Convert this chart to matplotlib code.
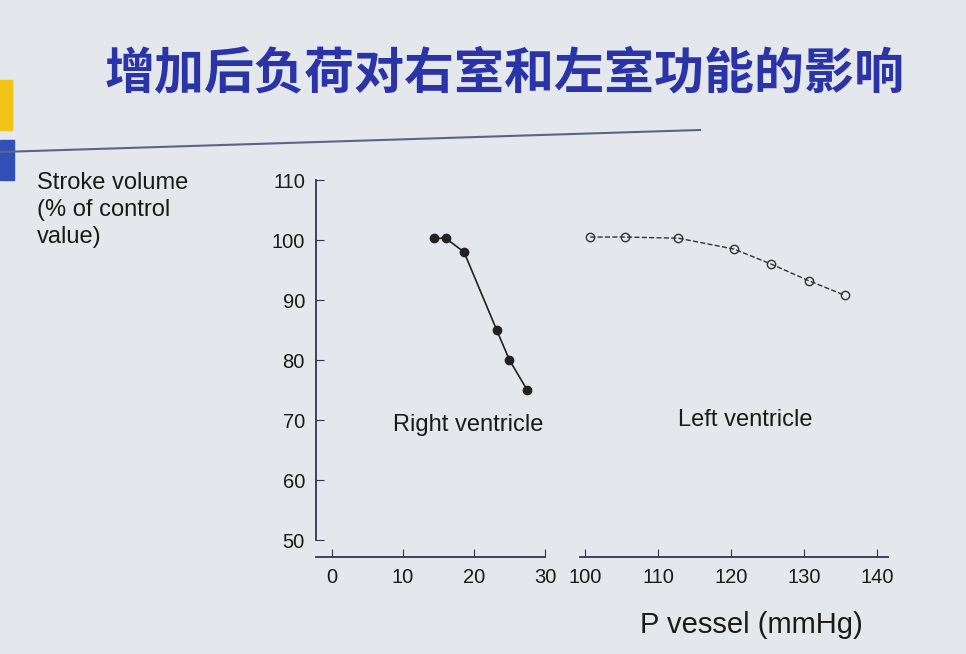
import matplotlib.pyplot as plt
from matplotlib.patches import Rectangle

# data
rv_p = [14.4, 16.0, 18.6, 23.2, 25.0, 27.5]
rv_sv = [100.3, 100.3, 98.0, 85.0, 80.0, 75.0]
lv_p = [100.7, 105.5, 112.8, 120.4, 125.5, 130.7, 135.6]
lv_sv = [100.5, 100.5, 100.3, 98.5, 96.0, 93.2, 90.8]
y_ticks = [50, 60, 70, 80, 90, 100, 110]
rv_ticks = [0, 10, 20, 30]
lv_ticks = [100, 110, 120, 130, 140]

plt.rcParams['font.family'] = ['Liberation Sans', 'DejaVu Sans']

W, H = 966, 654
fig = plt.figure(figsize=(W / 100, H / 100), dpi=100)
fig.patch.set_facecolor('#e4e8ec')

def box(x0, y0, x1, y1):
    return [x0 / W, 1 - y1 / H, (x1 - x0) / W, (y1 - y0) / H]

txt = '#1a1a1a'
ax1 = fig.add_axes(box(316, 180, 545, 557))
ax2 = fig.add_axes(box(580, 180, 890, 557))
for ax in (ax1, ax2):
    ax.set_facecolor('none')
    ax.set_ylim(47.2, 110)
    for s in ('top', 'right'):
        ax.spines[s].set_visible(False)
    for s in ('left', 'bottom'):
        ax.spines[s].set_color('#333355')
        ax.spines[s].set_linewidth(1.3)
    ax.tick_params(direction='in', length=6, colors='#333355', labelcolor=txt,
                   labelsize=14.5, pad=8)

ax1.set_xlim(-2.25, 30)
ax1.spines['left'].set_bounds(50, 110)
ax1.spines['bottom'].set_bounds(-2.25, 30)
ax1.set_yticks(y_ticks)
ax1.set_xticks(rv_ticks)
ax1.plot(rv_p, rv_sv, '-o', color='#222222', ms=6, lw=1.2)
ax1.text(19.2, 69.2, 'Right ventricle', fontsize=17, color=txt, ha='center', va='center')

ax2.set_xlim(99.3, 141.8)
ax2.spines['left'].set_visible(False)
ax2.spines['bottom'].set_bounds(99.3, 141.5)
ax2.set_yticks([])
ax2.set_xticks(lv_ticks)
ax2.plot(lv_p, lv_sv, '--o', color='#333333', ms=6, lw=1.0, mfc='none')
ax2.text(121.9, 70, 'Left ventricle', fontsize=17, color=txt, ha='center', va='center')

fig.text(37 / W, 1 - 172 / H, 'Stroke volume\n(% of control\nvalue)', fontsize=17,
         color=txt, va='top', linespacing=1.3)
fig.text(640 / W, 1 - 625 / H, 'P vessel (mmHg)', fontsize=21, color=txt, va='center')

fig.text(105 / W, 1 - 75 / H, '增加后负荷对右室和左室功能的影响', fontsize=36,
         fontweight='bold', color='#2a34a8', va='center',
         family=['Noto Sans CJK SC', 'DejaVu Sans'])

# slide decorations
fig.add_artist(Rectangle((0, 1 - 130 / H), 12 / W, 50 / H, transform=fig.transFigure,
                         color='#f2c418'))
fig.add_artist(Rectangle((0, 1 - 180 / H), 14 / W, 40 / H, transform=fig.transFigure,
                         color='#3050b8'))
fig.add_artist(plt.Line2D([0, 700 / W], [1 - 152 / H, 1 - 130 / H],
                          transform=fig.transFigure, color='#5a6488', lw=1.5))

fig.savefig('out.png', dpi=100, facecolor=fig.get_facecolor())
